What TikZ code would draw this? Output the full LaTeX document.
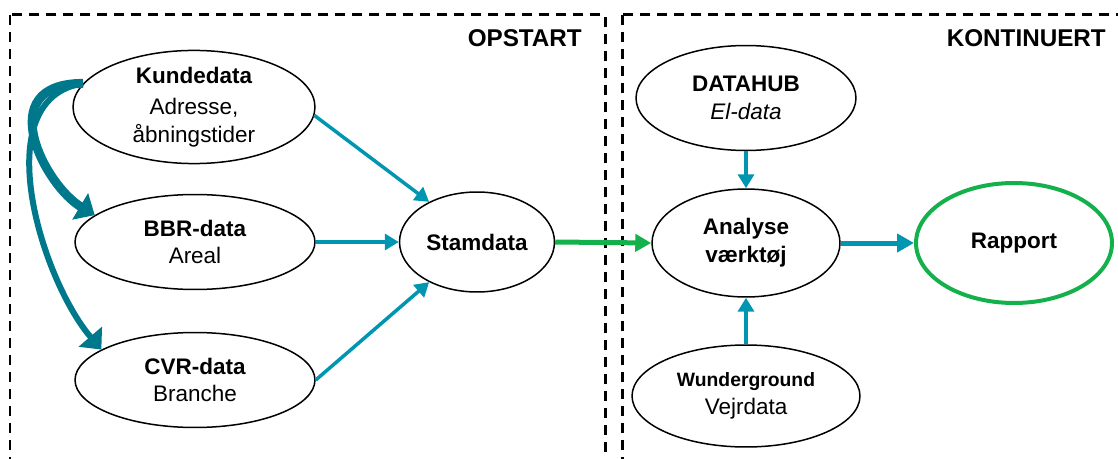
\documentclass[tikz,border=0pt]{standalone}
\usepackage{fontspec}
\setmainfont{Liberation Sans}
\usetikzlibrary{shapes.geometric,arrows.meta}

\definecolor{flowteal}{RGB}{0,150,178}
\definecolor{darkteal}{RGB}{0,120,140}
\definecolor{okgreen}{RGB}{20,176,76}

\tikzset{
  datanode/.style={ellipse, draw=black, line width=0.03cm, inner sep=0pt, align=center},
  zone/.style={draw=black, line width=0.06cm, dash pattern=on 0.2cm off 0.14cm},
  zonelabel/.style={anchor=east, font=\fontsize{13.8}{16}\selectfont\bfseries},
  link/.style={draw=flowteal, line width=0.07cm, -{Triangle[length=0.28cm,width=0.32cm]}},
  biglink/.style={draw=flowteal, line width=0.1cm, -{Triangle[length=0.34cm,width=0.36cm]}},
  greenlink/.style={draw=okgreen, line width=0.1cm, -{Triangle[length=0.32cm,width=0.34cm]}},
  swoop/.style={draw=darkteal, -{Triangle[length=0.34cm,width=0.6cm]}}
}

\begin{document}
\begin{tikzpicture}[x=0.02cm, y=-0.02cm, font=\fontsize{12.8}{15.8}\selectfont]
  \useasboundingbox (0,0) rectangle (1118,459);

  % the two phases
  \draw[zone] (10,15) rectangle (605,480);
  \draw[zone] (622,15) rectangle (1140,480);
  \node[zonelabel] (opstart) at (588,38) {OPSTART};
  \node[zonelabel] (kontinuert) at (1112,38) {KONTINUERT};

  % sources
  \node[datanode, minimum width=4.84cm, minimum height=1.96cm] (kunde) at (194,107)
    {\textbf{Kundedata}\\[2pt]Adresse,\\åbningstider};
  \node[datanode, minimum width=4.8cm, minimum height=1.9cm] (bbr) at (195,242)
    {\textbf{BBR-data}\\Areal};
  \node[datanode, minimum width=4.8cm, minimum height=1.9cm] (cvr) at (195,380)
    {\textbf{CVR-data}\\Branche};
  \node[datanode, minimum width=3.1cm, minimum height=2cm] (stam) at (477,242)
    {\textbf{Stamdata}};

  % analysis
  \node[datanode, minimum width=4.4cm, minimum height=2.1cm] (datahub) at (746,98)
    {\textbf{DATAHUB}\\\textit{El-data}};
  \node[datanode, minimum width=3.76cm, minimum height=2.16cm] (analyse) at (746,243)
    {\textbf{Analyse}\\\textbf{værktøj}};
  \node[datanode, minimum width=4.56cm, minimum height=2.04cm] (wunder) at (746,396)
    {{\fontsize{11}{13}\selectfont\textbf{Wunderground}}\\Vejrdata};
  \node[datanode, draw=okgreen, line width=0.08cm, minimum width=3.92cm, minimum height=2.4cm] (rapport) at (1014,243)
    {\textbf{Rapport}};

  % copying customer data on
  \draw[swoop, line width=0.18cm] (kunde.168) .. controls +(-92,0) and +(-50,-30) .. (bbr.165);
  \draw[swoop, line width=0.12cm] (kunde.168) .. controls +(-98,15) and +(-60,-70) .. (cvr.162);

  % flows
  \draw[link] (kunde.-4) -- (stam.140);
  \draw[link] (bbr.east) -- (stam.west);
  \draw[link] (cvr.east) -- (stam.220);
  \draw[greenlink] (stam.east) -- (analyse.west);
  \draw[link] (datahub.south) -- (analyse.north);
  \draw[link] (wunder.north) -- (analyse.south);
  \draw[biglink] (analyse.east) -- (rapport.west);
\end{tikzpicture}
\end{document}
